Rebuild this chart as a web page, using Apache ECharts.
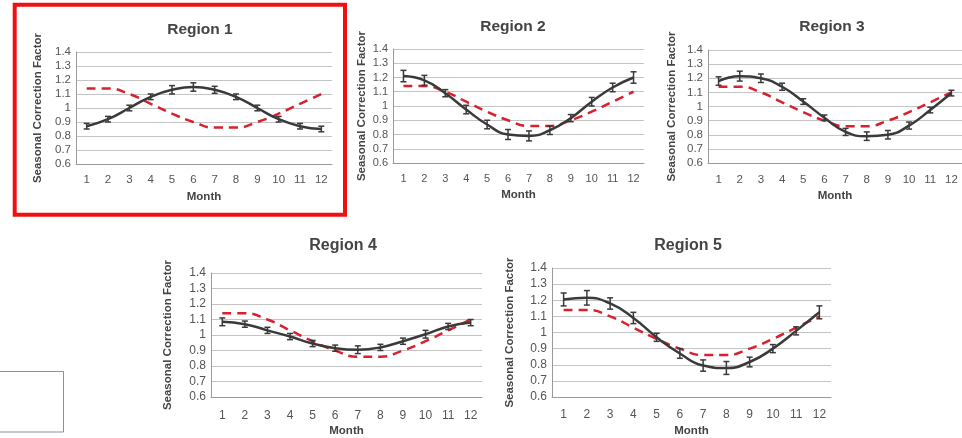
<!DOCTYPE html>
<html><head><meta charset="utf-8">
<script src="https://cdn.jsdelivr.net/npm/echarts@6/dist/echarts.min.js"></script>
<style>html,body{margin:0;padding:0;background:#fff}#c{width:962px;height:438px}</style>
</head><body><div id="c"></div>
<script>
const months = ['1','2','3','4','5','6','7','8','9','10','11','12'];
const regionNames = ['Region 1','Region 2','Region 3','Region 4','Region 5'];
const reference = [1.14,1.14,1.10,1.03,0.96,0.90,0.86,0.86,0.90,0.96,1.03,1.10];
const region1 = [0.87,0.92,1.00,1.08,1.13,1.15,1.13,1.08,1.00,0.92,0.87,0.85];
const region2 = [1.21,1.18,1.09,0.975,0.87,0.80,0.79,0.83,0.915,1.03,1.13,1.20];
const region3 = [1.18,1.215,1.20,1.14,1.035,0.92,0.82,0.79,0.80,0.865,0.975,1.095];
const region4 = [1.085,1.07,1.03,0.99,0.945,0.915,0.905,0.92,0.96,1.005,1.055,1.08];
const region5 = [1.205,1.215,1.18,1.09,0.97,0.87,0.795,0.78,0.817,0.90,1.01,1.125];
const err1 = [0.02,0.02,0.02,0.02,0.03,0.03,0.025,0.02,0.02,0.02,0.02,0.02];
const err2 = [0.04,0.035,0.025,0.03,0.03,0.035,0.035,0.03,0.025,0.03,0.03,0.04];
const err3 = [0.03,0.035,0.03,0.025,0.02,0.02,0.025,0.03,0.03,0.025,0.02,0.02];
const err4 = [0.025,0.02,0.02,0.02,0.02,0.02,0.025,0.02,0.02,0.025,0.02,0.02];
const err5 = [0.04,0.045,0.035,0.035,0.025,0.03,0.035,0.04,0.03,0.025,0.025,0.04];
const yMin = 0.6, yMax = 1.4, yStep = 0.1;
const yAxisTitle = 'Seasonal Correction Factor';
const xAxisTitle = 'Month';

const regions = [region1, region2, region3, region4, region5];
const errs = [err1, err2, err3, err4, err5];

// layout (pixels)
const panels = [
  {left:76, top:52, width:256, height:112, tx:200, ty:30, fs:11.5, ng:32, xng:27, lm:10, tfs:15.5},
  {left:393, top:49, width:251, height:114, tx:513, ty:27, fs:11, ng:25, xng:26, lm:10, tfs:15.5},
  {left:708, top:50, width:258, height:113, tx:832, ty:27, fs:11.5, ng:30, xng:27, lm:11, tfs:15.5},
  {left:211, top:273, width:271, height:124, tx:343, ty:246, fs:12, ng:37, xng:28, lm:13, tfs:16},
  {left:552, top:268, width:279, height:129, tx:688, ty:246, fs:12, ng:36, xng:28, lm:12, tfs:16}
];

const grid=[], xAxis=[], yAxis=[], series=[], graphic=[];
panels.forEach((p,i)=>{
  grid.push({left:p.left, top:p.top, width:p.width, height:p.height, containLabel:false});
  xAxis.push({type:'category', gridIndex:i, data:months, boundaryGap:true,
    axisLine:{lineStyle:{color:'#9a9a9a', width:1}}, axisTick:{show:false},
    axisLabel:{color:'#555', fontSize:p.fs, fontFamily:'Liberation Sans, Arial', margin:p.lm},
    name:xAxisTitle, nameLocation:'middle', nameGap:p.xng,
    nameTextStyle:{color:'#444', fontWeight:'bold', fontSize:11.5, fontFamily:'Liberation Sans, Arial'}});
  yAxis.push({type:'value', gridIndex:i, min:yMin, max:yMax, interval:yStep,
    axisLine:{show:true, lineStyle:{color:'#9a9a9a', width:1}}, axisTick:{show:false},
    splitLine:{lineStyle:{color:'#c4c4c4', width:1}},
    axisLabel:{color:'#555', fontSize:p.fs, fontFamily:'Liberation Sans, Arial', margin:5,
      formatter:v=>String(+v.toFixed(1))},
    name:yAxisTitle, nameLocation:'middle', nameRotate:90, nameGap:p.ng,
    nameTextStyle:{color:'#444', fontWeight:'bold', fontSize:11.5, fontFamily:'Liberation Sans, Arial'}});
  series.push({type:'line', xAxisIndex:i, yAxisIndex:i, data:reference, smooth:true, symbol:'none',
    lineStyle:{color:'#d8202e', width:2.5, type:[9,6]}, z:2});
  series.push({type:'line', xAxisIndex:i, yAxisIndex:i, data:regions[i], smooth:true, symbol:'none',
    lineStyle:{color:'#3a3a3a', width:2.5}, z:3});
  series.push({type:'custom', xAxisIndex:i, yAxisIndex:i, z:4,
    data:regions[i].map((v,k)=>[k, v, errs[i][k]]),
    encode:{x:0, y:1},
    renderItem:(params, api)=>{
      const x=api.value(0), v=api.value(1), e=api.value(2);
      const t=api.coord([x, v+e]), b=api.coord([x, v-e]);
      const w=3;
      const st={stroke:'#3a3a3a', lineWidth:1.5};
      return {type:'group', children:[
        {type:'line', shape:{x1:t[0], y1:t[1], x2:b[0], y2:b[1]}, style:st},
        {type:'line', shape:{x1:t[0]-w, y1:t[1], x2:t[0]+w, y2:t[1]}, style:st},
        {type:'line', shape:{x1:b[0]-w, y1:b[1], x2:b[0]+w, y2:b[1]}, style:st}
      ]};
    }});
  graphic.push({type:'text', x:p.tx, y:p.ty, style:{text:regionNames[i], textAlign:'center', textVerticalAlign:'middle',
    fill:'#444', font:'bold '+p.tfs+'px "Liberation Sans", Arial'}});
});
graphic.push({type:'rect', shape:{x:14.7, y:4.7, width:330.3, height:210}, style:{fill:'none', stroke:'#f01010', lineWidth:4}});
graphic.push({type:'rect', shape:{x:-5, y:371.5, width:68.5, height:60.5}, style:{fill:'none', stroke:'#8790a4', lineWidth:1}});

const chart = echarts.init(document.getElementById('c'), null, {renderer:'canvas'});
chart.setOption({animation:false, backgroundColor:'#fff', grid, xAxis, yAxis, series, graphic});
</script></body></html>
